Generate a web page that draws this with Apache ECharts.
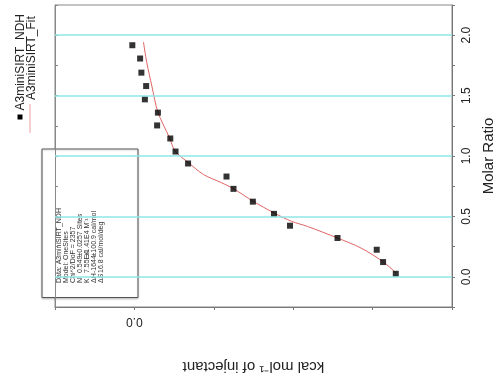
<!DOCTYPE html>
<html><head><meta charset="utf-8">
<script src="https://cdn.jsdelivr.net/npm/echarts@6/dist/echarts.min.js"></script>
<style>html,body{margin:0;padding:0;background:#fff}#c{width:497px;height:378px}</style>
</head><body><div id="c"></div>
<script>
// Measured data (molar ratio vs kcal/mol of injectant)
const dataRatio = [1.917,1.807,1.690,1.579,1.469,1.359,1.253,1.145,1.037,0.938,0.830,0.728,0.622,0.521,0.423,0.321,0.224,0.122,0.025];
const dataHeat  = [0.013,-0.036,-0.044,-0.074,-0.066,-0.148,-0.143,-0.226,-0.259,-0.338,-0.580,-0.624,-0.746,-0.879,-0.980,-1.279,-1.526,-1.566,-1.646];
const fitRatio = [1.944,1.773,1.579,1.363,1.151,1.040,0.944,0.846,0.778,0.728,0.625,0.529,0.459,0.417,0.321,0.238,0.127,0.031];
const fitHeat  = [-0.057,-0.078,-0.110,-0.148,-0.221,-0.257,-0.341,-0.436,-0.550,-0.626,-0.748,-0.879,-0.990,-1.090,-1.279,-1.427,-1.564,-1.648];
const ratioTickValues = [0, 0.5, 1, 1.5, 2];
const ratioTickLabels = ['0.0','0.5','1.0','1.5','2.0'];
const heatTickValues = [0];
const heatTickLabels = ['0.0'];
const seriesNames = ['A3miniSIRT_NDH','A3miniSIRT_Fit'];
const xName = 'kcal mol\u207B\u00B9 of injectant';
const yName = 'Molar Ratio';
const boxSingle = ['Data: A3miniSIRT_NDH','Model: OneSites','Chi^2/DoF = 2357'];
const boxParams = [
  ['N','0.549','\u00B10.0257 Sites'],
  ['K','7.55E4','\u00B11.41E4 M\u207B\u00B9'],
  ['\u0394H','-1644','\u00B1100.9 cal/mol'],
  ['\u0394S','16.8 cal/mol/deg','']
];

const FONT = 'Liberation Sans, Arial, sans-serif';
function lookup(vals, labels, v){
  for (let i=0;i<vals.length;i++) if (Math.abs(vals[i]-v)<1e-6) return labels[i];
  return '';
}
const boxTexts = [];
const lineY = [16.8,23.9,31,38.1,45.2,52.3,59.4];
const colX = [14.5, 24.5, 41];
function txt(t, x, y){
  return {type:'text', x:x, y:y, style:{text:t, font:'7px '+FONT, fill:'#333', textAlign:'left', textVerticalAlign:'middle', align:'left', verticalAlign:'middle'}};
}
boxSingle.forEach((t,i)=>boxTexts.push(txt(t, colX[0], lineY[i])));
boxParams.forEach((row,j)=>{
  row.forEach((t,k)=>{ if(t) boxTexts.push(txt(t, colX[k], lineY[3+j])); });
});

const chart = echarts.init(document.getElementById('c'), null, {renderer:'canvas'});
chart.setOption({
  animation:false,
  backgroundColor:'#fff',
  grid:{left:55, right:45, top:5, bottom:71, show:true, borderColor:'#888', borderWidth:1, backgroundColor:'transparent', containLabel:false, outerBoundsMode:'none'},
  xAxis:[{
    type:'value', position:'bottom', inverse:true, min:-2, max:0.5, interval:0.5,
    axisLine:{show:true, onZero:false, lineStyle:{color:'#777', width:1}},
    axisTick:{show:true, inside:false, length:3, lineStyle:{color:'#777'}},
    splitLine:{show:false},
    axisLabel:{formatter:v=>lookup(heatTickValues, heatTickLabels, v), rotate:180, fontSize:12, fontFamily:FONT, color:'#222', margin:8},
    name:xName, nameLocation:'middle', nameRotate:180, nameGap:52,
    nameTextStyle:{fontSize:15, fontFamily:FONT, color:'#222'}
  }],
  yAxis:[{
    type:'value', position:'right', min:-0.25, max:2.25, interval:0.25,
    axisLine:{show:true, onZero:false, lineStyle:{color:'#777', width:1}},
    axisTick:{show:true, inside:false, length:3, lineStyle:{color:'#777'}},
    splitLine:{show:false},
    axisLabel:{formatter:v=>lookup(ratioTickValues, ratioTickLabels, v), rotate:90, fontSize:12, fontFamily:FONT, color:'#222', margin:9},
    name:yName, nameLocation:'middle', nameRotate:90, nameGap:26,
    nameTextStyle:{fontSize:15, fontFamily:FONT, color:'#222'}
  },{
    type:'value', position:'left', min:-0.25, max:2.25, interval:0.25,
    axisLine:{show:true, onZero:false, lineStyle:{color:'#888', width:1}},
    axisTick:{show:true, inside:true, length:3, lineStyle:{color:'#888'}},
    splitLine:{show:false}, axisLabel:{show:false}
  }],
  series:[{
    name:seriesNames[1], type:'line', yAxisIndex:0, showSymbol:false, smooth:0.3,
    data: fitHeat.map((h,i)=>[h, fitRatio[i]]),
    lineStyle:{color:'#e06464', width:1},
    markLine:{silent:true, symbol:'none', label:{show:false},
      lineStyle:{color:'#8fe6e6', width:1.5, type:'solid'},
      data: ratioTickValues.map(v=>({yAxis:v}))},
    z:2
  },{
    name:seriesNames[0], type:'scatter', yAxisIndex:0, symbol:'rect', symbolSize:6,
    itemStyle:{color:'#000'},
    data: dataHeat.map((h,i)=>[h, dataRatio[i]]),
    z:3
  }],
  graphic:[
    {type:'rect', shape:{x:17.5,y:114.5,width:5,height:5}, style:{fill:'#000'}},
    {type:'text', x:20.5, y:110.5, rotation:Math.PI/2, style:{text:seriesNames[0], font:'12px '+FONT, fill:'#222', textAlign:'left', textVerticalAlign:'middle', align:'left', verticalAlign:'middle'}},
    {type:'line', shape:{x1:30,y1:104,x2:30,y2:133}, style:{stroke:'#e8a0a0', lineWidth:1}},
    {type:'text', x:31.5, y:100, rotation:Math.PI/2, style:{text:seriesNames[1], font:'12px '+FONT, fill:'#222', textAlign:'left', textVerticalAlign:'middle', align:'left', verticalAlign:'middle'}},
    {type:'group', x:42, y:297.5, rotation:Math.PI/2, children:[
      {type:'rect', shape:{x:0,y:0,width:148.5,height:96}, style:{fill:'#fff', stroke:'#555', lineWidth:1, shadowBlur:2, shadowColor:'rgba(0,0,0,0.2)', shadowOffsetX:0, shadowOffsetY:1}}
    ].concat(boxTexts)}
  ]
});
</script></body></html>
